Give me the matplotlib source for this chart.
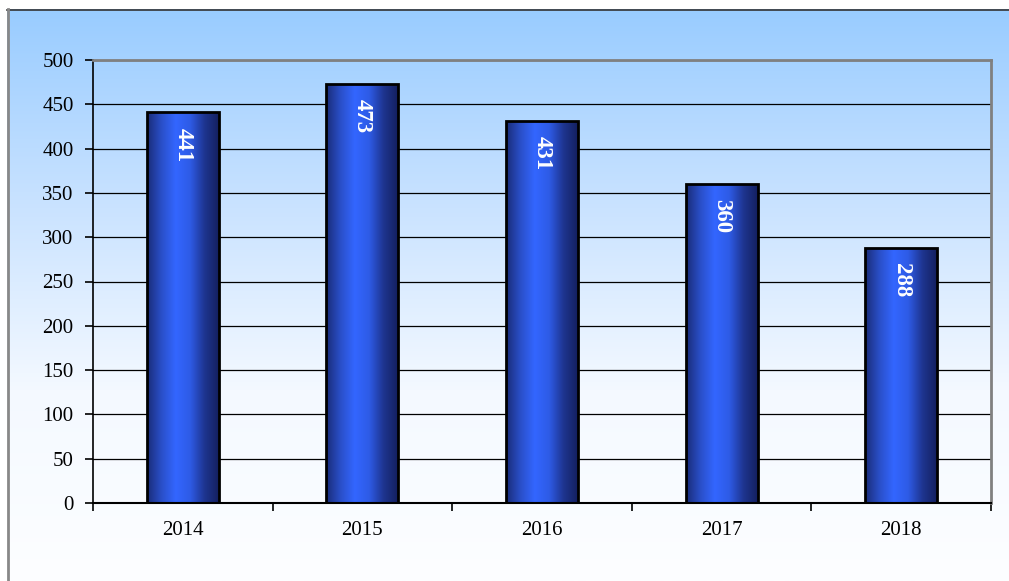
import matplotlib
matplotlib.use("Agg")
import matplotlib.pyplot as plt
import numpy as np
from matplotlib.colors import LinearSegmentedColormap
from matplotlib.lines import Line2D

years = ["2014", "2015", "2016", "2017", "2018"]
values = [441, 473, 431, 360, 288]
yticks = [0, 50, 100, 150, 200, 250, 300, 350, 400, 450, 500]

W, H = 1009, 581
fig = plt.figure(figsize=(W / 100, H / 100), dpi=100)
fig.patch.set_facecolor("white")

# background gradient panel
bg = fig.add_axes([7 / W, 0, 1 - 7 / W, 1 - 9 / H], zorder=0)
bg_cmap = LinearSegmentedColormap.from_list("bg", ["#99CCFF", "#C8E2FF", "#F4F9FF", "#FDFEFF"])
grad = np.linspace(0, 1, 256).reshape(-1, 1)
bg.imshow(grad, aspect="auto", cmap=bg_cmap, extent=[0, 1, 0, 1], origin="upper")
bg.set_xlim(0, 1); bg.set_ylim(0, 1)
bg.set_xticks([]); bg.set_yticks([])
for s in bg.spines.values():
    s.set_visible(False)
fig.add_artist(Line2D([7 / W, 1], [1 - 9.5 / H, 1 - 9.5 / H], color="#333333", lw=1.2, transform=fig.transFigure))
fig.add_artist(Line2D([7.5 / W, 7.5 / W], [0, 1 - 9 / H], color="#888888", lw=2, transform=fig.transFigure))

l, r, t, b = 93, 991, 60, 503
ax = fig.add_axes([l / W, 1 - b / H, (r - l) / W, (b - t) / H], zorder=1)
ax.patch.set_alpha(0)
ax.set_xlim(-0.5, len(years) - 0.5)
ax.set_ylim(0, 500)

ax.set_yticks(yticks)
ax.set_yticklabels([str(v) for v in yticks], fontfamily="Liberation Serif", fontsize=15)
ax.yaxis.grid(True, color="black", lw=0.9)
ax.set_axisbelow(True)

x = np.arange(len(years))
ax.set_xticks(np.arange(-0.5, len(years)), labels=[""] * (len(years) + 1))
ax.set_xticks(x, labels=years, minor=True)
ax.tick_params(axis="x", which="major", direction="out", length=6, width=1.2, color="black")
ax.tick_params(axis="x", which="minor", length=0, pad=13, labelsize=15)
ax.tick_params(axis="y", direction="out", length=6, width=1.2, pad=8)
for lab in ax.get_xticklabels(minor=True):
    lab.set_fontfamily("Liberation Serif")

ax.spines["left"].set_color("black"); ax.spines["left"].set_linewidth(1.2)
ax.spines["bottom"].set_color("black"); ax.spines["bottom"].set_linewidth(1.5)
ax.spines["top"].set_color("#808080"); ax.spines["top"].set_linewidth(2)
ax.spines["right"].set_color("#808080"); ax.spines["right"].set_linewidth(2)

bar_cmap = LinearSegmentedColormap.from_list(
    "bar", ["#1A2C78", "#2A4FC8", "#3366FF", "#2E5BE6", "#1E3590", "#142060"])
hgrad = np.linspace(0, 1, 256).reshape(1, -1)
width = 0.4
bars = ax.bar(x, values, width=width, color="none", edgecolor="black", linewidth=2, zorder=3)
for bar, v in zip(bars, values):
    x0 = bar.get_x()
    im = ax.imshow(hgrad, aspect="auto", cmap=bar_cmap,
                   extent=[x0, x0 + width, 0, v], zorder=2, interpolation="bilinear")
    im.set_clip_path(bar)
    ax.annotate(str(v), xy=(bar.get_x() + width / 2, v), xytext=(0, -11),
                textcoords="offset points", rotation=270, ha="center", va="top",
                color="white", fontweight="bold", fontsize=16.5,
                fontfamily="Liberation Serif", zorder=4)

ax.set_xlim(-0.5, len(years) - 0.5)
ax.set_ylim(0, 500)

fig.savefig("out.png", dpi=100)
